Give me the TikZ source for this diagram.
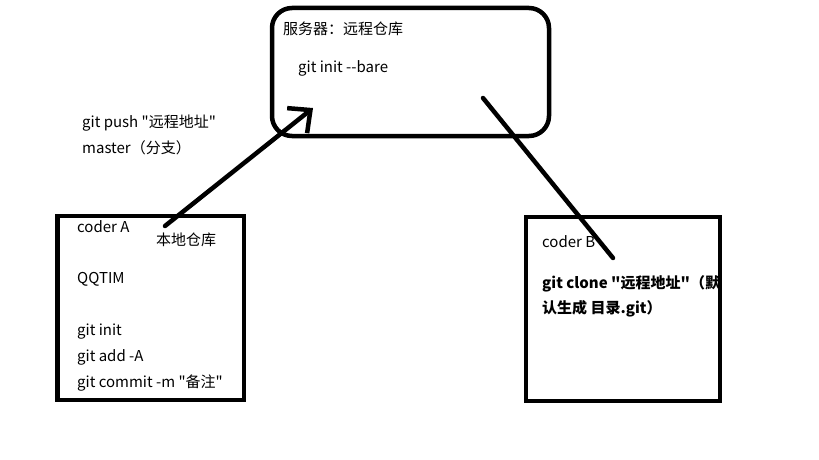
\documentclass[tikz,border=0pt]{standalone}
\usepackage{fontspec}
\setmainfont{Noto Sans CJK SC}[Ligatures=TeXOff]
\usetikzlibrary{arrows.meta}

\begin{document}
\begin{tikzpicture}[x=1pt, y=-1pt,
        box/.style={draw, line width=4.5pt, inner sep=0pt, outer sep=0pt},
        txt/.style={anchor=base west, inner sep=0pt, font=\fontsize{15}{17}\selectfont},
        link/.style={line width=4.5pt, line cap=round}]
        \useasboundingbox (0,0) rectangle (819,460);
        % boxes
        \node[box, rounded corners=20pt, minimum width=277pt, minimum height=128pt] (server) at (410.5,72) {};
        \node[box, minimum width=186.5pt, minimum height=184pt] (coderA) at (150.75,308) {};
        \node[box, draw=none, minimum width=194pt, minimum height=184pt] (coderB) at (623,309) {};
        % server
        \node[txt] (srvname) at (283,35) {服务器：远程仓库};
        \node[txt] (bare) at (298,73) {git init --bare};
        % push
        \node[txt] (push) at (82,127) {git push "远程地址"};
        \node[txt] (master) at (82,153) {master（分支）};
        % coder A
        \node[txt] (nameA) at (77,232) {coder A};
        \node[txt] (local) at (156,245) {本地仓库};
        \node[txt] (qq) at (77,283) {QQTIM};
        \node[txt] (init) at (77,335) {git init};
        \node[txt] (add) at (77,361) {git add -A};
        \node[txt] (commit) at (77,387) {git commit -m "备注"};
        % coder B
        \begin{scope}
            \clip (coderB.south west) rectangle (coderB.north east);
            \node[txt] (nameB) at (542,247) {coder B};
            \node[txt, font=\fontsize{15}{17}\selectfont\bfseries] (clone) at (542,288) {git clone "远程地址"（默};
            \node[txt, font=\fontsize{15}{17}\selectfont\bfseries] (dir) at (542,313) {认生成 目录.git）};
        \end{scope}
        \draw[box] (coderB.south west) rectangle (coderB.north east);
        % connectors
        \coordinate (pushA) at (165,226);
        \coordinate (pushS) at (313,108);
        \coordinate (cloneS) at (483,98);
        \coordinate (cloneB) at (613,258);
        \draw[link, -{Straight Barb[length=17pt, width=32pt]}] (pushA) -- (pushS);
        \draw[link] (cloneS) -- (cloneB);
    \end{tikzpicture}
\end{document}
